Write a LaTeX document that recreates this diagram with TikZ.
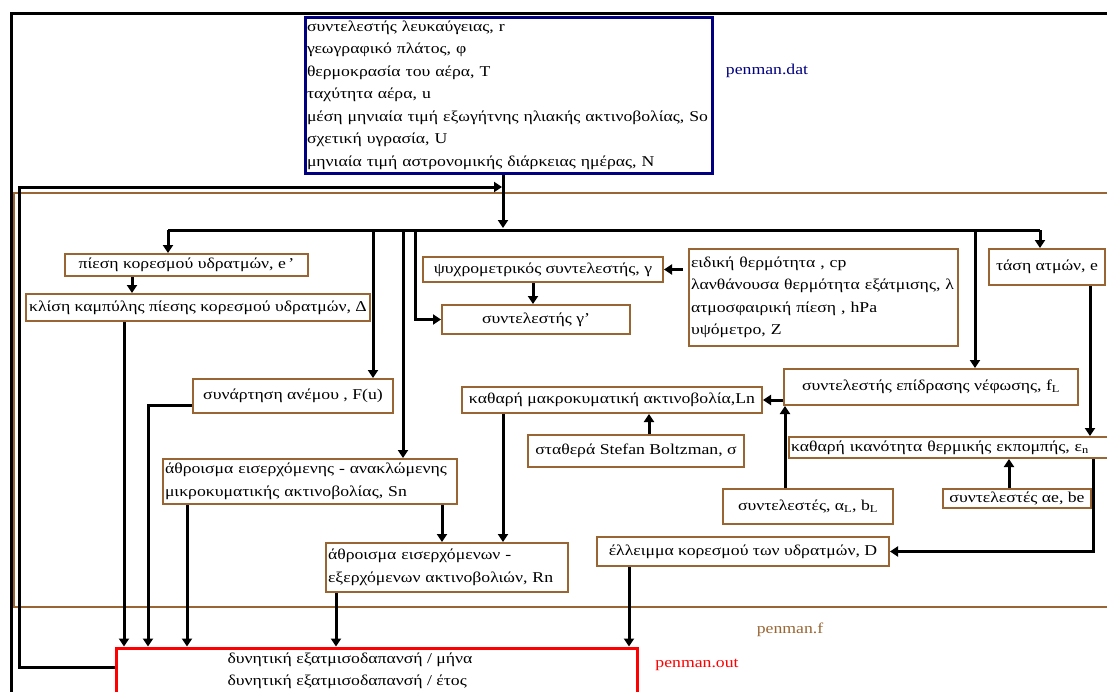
\documentclass[tikz,border=0pt]{standalone}
\usepackage{fontspec}
\setmainfont[FakeStretch=1.18]{Liberation Serif}
\usetikzlibrary{arrows.meta}
\definecolor{cbrown}{HTML}{996633}
\definecolor{cnavy}{HTML}{000080}
\definecolor{cred}{HTML}{FF0000}
\tikzset{
  every picture/.style={x=1pt, y=-1pt, line width=3pt},
  every node/.style={font=\fontsize{15}{22.5}\selectfont, inner sep=2pt},
  box/.style={draw=cbrown, line width=2pt, align=center, minimum width=#1},
  lbox/.style={draw=cbrown, line width=2pt, align=left, text width=#1},
  wire/.style={draw=black, line width=3pt},
  arrow/.style={wire, -{Triangle[length=8pt, width=10pt]}},
}

\begin{document}
\begin{tikzpicture}
  \clip (0,0) rectangle (1107,691);
  % frames of the three files
  \draw[wire] (11,700) -- (11,13) -- (1120,13);
  \draw[cbrown, line width=2pt] (1120,193) -- (14,193) -- (14,607) -- (1120,607);
  \node[draw=cnavy, line width=3pt, align=left, text width=403pt, minimum height=156pt] (dat) at (508.5,95)
    {συντελεστής λευκαύγειας, r\\γεωγραφικό πλάτος, φ\\θερμοκρασία του αέρα, T\\ταχύτητα αέρα, u\\μέση μηνιαία τιμή  εξωγήτνης ηλιακής ακτινοβολίας, So\\σχετική υγρασία, U\\μηνιαία τιμή  αστρονομικής διάρκειας ημέρας, N};
  \node[text=cnavy] (datlbl) at (767,71) {penman.dat};
  \node[text=cbrown] (flbl) at (790,630) {penman.f};
  \node[draw=cred, line width=3pt, minimum width=521pt, minimum height=60pt] (out) at (376.5,678) {};
  \node[align=left] (outtxt) at (350,671) {δυνητική εξατμισοδαπανσή / μήνα\\δυνητική εξατμισοδαπανσή  / έτος};
  \node[text=cred] (outlbl) at (697,665) {penman.out};
  % boxes
  \node[box=243pt, minimum height=22pt] (ep) at (186.5,265) {πίεση κορεσμού  υδρατμών, e\,'};
  \node[box=344pt, minimum height=27pt] (dl) at (198,307.5) {κλίση καμπύλης πίεσης κορεσμού υδρατμών, Δ};
  \node[box=240pt, minimum height=25pt] (gm) at (543,269.5) {ψυχρομετρικός συντελεστής, γ};
  \node[box=188pt, minimum height=29pt] (gp) at (536,319.5) {συντελεστής γ'};
  \node[lbox=265pt, minimum height=97pt] (cp) at (823.5,297.5) {ειδική θερμότητα , cp\\λανθάνουσα θερμότητα εξάτμισης, λ\\ατμοσφαιρική  πίεση , hPa\\υψόμετρο, Z};
  \node[box=116pt, minimum height=36pt] (ea) at (1047,267) {τάση ατμών, e};
  \node[box=200pt, minimum height=34pt] (fu) at (293,396) {συνάρτηση ανέμου ,  F(u)};
  \node[box=300pt, minimum height=26pt] (ln) at (612,400) {καθαρή μακροκυματική ακτινοβολία,Ln};
  \node[box=294pt, minimum height=36pt] (fl) at (931,387) {συντελεστής επίδρασης νέφωσης, f\textsubscript{L}};
  \node[box=216pt, minimum height=32pt] (sb) at (636,451) {σταθερά Stefan Boltzman, σ};
  \node[lbox=319pt, minimum height=21pt] (en) at (950.5,447.5) {καθαρή ικανότητα θερμικής εκπομπής,  ε\textsubscript{n}};
  \node[lbox=290pt, minimum height=45pt] (sn) at (310,481.5) {άθροισμα εισερχόμενης - ανακλώμενης\\μικροκυματικής ακτινοβολίας, Sn};
  \node[box=170pt, minimum height=35pt] (ab) at (808,506.5) {συντελεστές,  α\textsubscript{L}, b\textsubscript{L}};
  \node[box=148pt, minimum height=19pt] (ae) at (1017,498.5) {συντελεστές  αe, be};
  \node[box=292pt, minimum height=29pt] (dd) at (743,551.5) {έλλειμμα κορεσμού των υδρατμών, D};
  \node[lbox=238pt, minimum height=49pt] (rn) at (447,567.5) {άθροισμα  εισερχόμενων -\\εξερχόμενων ακτινοβολιών, Rn};
  % distribution of the input data
  \coordinate (j) at (503,187);
  \coordinate (bl) at (168,230);
  \coordinate (br) at (1040,230);
  \draw[arrow] (dat.south -| j) -- (503,228);
  \draw[wire] (bl) -- (br);
  \draw[arrow] (bl) -- (bl |- ep.north);
  \draw[arrow] (br) -- (br |- ea.north);
  \foreach \x/\n in {373/fu, 403/sn, 975/fl}
    \draw[arrow] (\x,230) -- (\x,230 |- \n.north);
  \draw[arrow] (415,230) |- (gp.west);
  % links between the boxes
  \draw[arrow] (132,0 |- ep.south) -- (132,0 |- dl.north);
  \draw[arrow] (533,0 |- gm.south) -- (533,0 |- gp.north);
  \draw[arrow] ([xshift=-5pt]cp.west |- gm.east) -- (gm.east);
  \draw[arrow] (fl.west |- ln.east) -- (ln.east);
  \draw[arrow] (649,0 |- sb.north) -- (649,0 |- ln.south);
  \draw[arrow] (785,0 |- ab.north) -- (785,0 |- fl.south);
  \draw[arrow] (1090,0 |- ea.south) -- (1090,0 |- en.north);
  \draw[arrow] (1009,0 |- ae.north) -- (1009,0 |- en.south);
  \draw[arrow] (1093,0 |- en.south) |- (dd.east);
  \draw[arrow] (442,0 |- sn.south) -- (442,0 |- rn.north);
  \draw[arrow] (503,0 |- ln.south) -- (503,0 |- rn.north);
  % results into penman.out
  \draw[arrow] (124,0 |- dl.south) -- (124,0 |- out.north);
  \draw[arrow] (fu.west |- 0,405) -| (148,0 |- out.north);
  \draw[arrow] (187,0 |- sn.south) -- (187,0 |- out.north);
  \draw[arrow] (336,0 |- rn.south) -- (336,0 |- out.north);
  \draw[arrow] (629,0 |- dd.south) -- (629,0 |- out.north);
  \draw[arrow] (out.west |- 0,667) -- (19,667) -- (19,187) -- ([xshift=-1pt]j);
\end{tikzpicture}
\end{document}
